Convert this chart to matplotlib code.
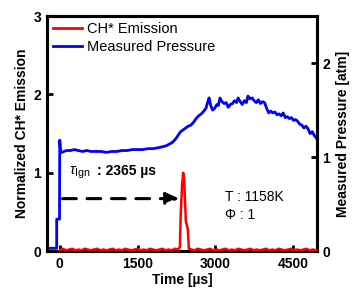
import matplotlib
matplotlib.use('Agg')
import matplotlib.pyplot as plt
from matplotlib.lines import Line2D

plt.rcParams['font.family'] = ['Liberation Sans', 'DejaVu Sans']
plt.rcParams['mathtext.fontset'] = 'custom'
plt.rcParams['mathtext.rm'] = 'Liberation Sans'
plt.rcParams['mathtext.it'] = 'Liberation Sans:italic'
plt.rcParams['mathtext.bf'] = 'Liberation Sans:bold'

# pressure trace (right axis, atm)
t_p = [-250, -60, -60, -5, -5, 0, 15, 40, 80, 130, 200, 280, 360, 440, 520, 600, 700,
       800, 900, 1000, 1100, 1200, 1300, 1400, 1500, 1600, 1700, 1800, 1900, 1980, 2050,
       2120, 2180, 2230, 2280, 2330, 2380, 2430, 2480, 2530, 2580, 2630, 2680, 2730, 2780,
       2820, 2850, 2880, 2910, 2950, 2990, 3030, 3060, 3090, 3130, 3170, 3210, 3250, 3290,
       3330, 3370, 3410, 3440, 3480, 3520, 3560, 3600, 3630, 3670, 3710, 3750, 3790, 3830,
       3870, 3910, 3950, 3990, 4030, 4070, 4110, 4150, 4190, 4230, 4270, 4310, 4350, 4390,
       4430, 4470, 4510, 4550, 4590, 4630, 4670, 4710, 4750, 4790, 4830, 4870, 4910, 4950]
p = [0.03, 0.03, 0.34, 0.34, 0.60, 1.18, 1.06, 1.05, 1.06, 1.07, 1.07, 1.08, 1.07, 1.06, 1.07, 1.06, 1.06,
     1.06, 1.05, 1.06, 1.06, 1.07, 1.07, 1.08, 1.08, 1.08, 1.09, 1.09, 1.10, 1.11, 1.12,
     1.14, 1.16, 1.19, 1.23, 1.27, 1.29, 1.31, 1.33, 1.34, 1.37, 1.41, 1.44, 1.46, 1.49,
     1.52, 1.58, 1.63, 1.55, 1.50, 1.52, 1.56, 1.55, 1.63, 1.59, 1.57, 1.58, 1.53, 1.56,
     1.57, 1.60, 1.58, 1.63, 1.59, 1.56, 1.60, 1.58, 1.65, 1.62, 1.63, 1.60, 1.58, 1.61,
     1.57, 1.59, 1.58, 1.52, 1.47, 1.49, 1.47, 1.48, 1.45, 1.46, 1.44, 1.47, 1.42, 1.43,
     1.41, 1.42, 1.39, 1.40, 1.38, 1.35, 1.34, 1.31, 1.33, 1.30, 1.25, 1.27, 1.23, 1.20]

# CH* emission (left axis, normalized)
t_ch = [0, 60, 120, 180, 240, 300, 360, 420, 480, 540, 600, 660, 720, 780, 840, 900, 960,
        1020, 1080, 1140, 1200, 1260, 1320, 1380, 1440, 1500, 1560, 1620, 1680, 1740, 1800,
        1860, 1920, 1980, 2040, 2100, 2160, 2220, 2280, 2316, 2335, 2360, 2380, 2400, 2412,
        2432, 2455, 2470, 2490, 2540, 2600, 2660, 2720, 2780, 2840, 2900, 2960, 3020, 3080,
        3140, 3200, 3260, 3320, 3380, 3440, 3500, 3560, 3620, 3680, 3740, 3800, 3860, 3920,
        3980, 4040, 4100, 4160, 4220, 4280, 4340, 4400, 4460, 4520, 4580, 4640, 4700, 4760,
        4820, 4880, 4950]
ch = [0.01, 0.03, 0.01, 0.02, 0.03, 0.01, 0.02, 0.01, 0.03, 0.02, 0.01, 0.02, 0.03, 0.01, 0.02, 0.01, 0.02,
      0.03, 0.01, 0.02, 0.01, 0.03, 0.02, 0.01, 0.02, 0.03, 0.01, 0.02, 0.01, 0.03, 0.02,
      0.01, 0.02, 0.03, 0.01, 0.02, 0.01, 0.03, 0.02, 0.05, 0.50, 0.85, 1.00, 0.92, 0.70,
      0.38, 0.32, 0.28, 0.03, 0.02, 0.01, 0.03, 0.02, 0.01, 0.02, 0.03, 0.01, 0.02, 0.01,
      0.02, 0.03, 0.01, 0.02, 0.01, 0.03, 0.02, 0.01, 0.02, 0.03, 0.01, 0.02, 0.01, 0.02,
      0.03, 0.01, 0.02, 0.01, 0.03, 0.02, 0.01, 0.02, 0.03, 0.01, 0.02, 0.01, 0.02, 0.03,
      0.01, 0.02, 0.01]

ign_delay = 2365
arrow_y = 0.67

fig = plt.figure(figsize=(3.63, 3.04), dpi=100)
ax = fig.add_axes([0.129, 0.174, 0.744, 0.773])
ax2 = ax.twinx()

ax.plot(t_ch, ch, color='red', lw=1.8, zorder=3)
ax2.plot(t_p, p, color='blue', lw=2)

ax.set_xlim(-250, 4960)
ax.set_ylim(0, 3)
ax2.set_ylim(0, 2.5)
ax.set_xticks([0, 1500, 3000, 4500])
ax.set_yticks([0, 1, 2, 3])
ax2.set_yticks([0, 1, 2])

fs = 10
for a in (ax, ax2):
    for s in a.spines.values():
        s.set_linewidth(2.2)
    a.tick_params(direction='in', length=4, width=2, labelsize=fs, pad=4)
    for lab in a.get_xticklabels() + a.get_yticklabels():
        lab.set_fontweight('bold')
ax.tick_params(axis='y', right=False)
ax.set_zorder(ax2.get_zorder() + 1)
ax.patch.set_visible(False)

ax.set_xlabel('Time [µs]', fontsize=fs, fontweight='bold', labelpad=2)
ax.set_ylabel('Normalized CH* Emission', fontsize=fs, fontweight='bold', labelpad=3)
ax2.set_ylabel('Measured Pressure [atm]', fontsize=fs, fontweight='bold', labelpad=4)

# ignition delay arrow
ax.annotate('', xy=(ign_delay, arrow_y), xytext=(0, arrow_y),
            arrowprops=dict(arrowstyle='-|>,head_length=0.8,head_width=0.35',
                            color='black', lw=2.2, linestyle=(0, (4.5, 3.5))))
ax.text(180, 1.0, r'$\tau_{\mathrm{Ign}}$', fontsize=11, ha='left', va='center')
ax.text(720, 1.02, ': 2365 µs', fontsize=10, fontweight='bold', ha='left', va='center')
ax.text(3180, 0.69, 'T : 1158K', fontsize=10, ha='left', va='center')
ax.text(3180, 0.46, 'Φ : 1', fontsize=10, ha='left', va='center')

handles = [Line2D([], [], color='red', lw=2), Line2D([], [], color='blue', lw=2)]
ax.legend(handles, ['CH* Emission', 'Measured Pressure'], loc='upper left',
          frameon=False, fontsize=10.5, handlelength=2.0, handletextpad=0.35,
          borderaxespad=0.0, labelspacing=0.3)

fig.savefig('out.png', dpi=100)
